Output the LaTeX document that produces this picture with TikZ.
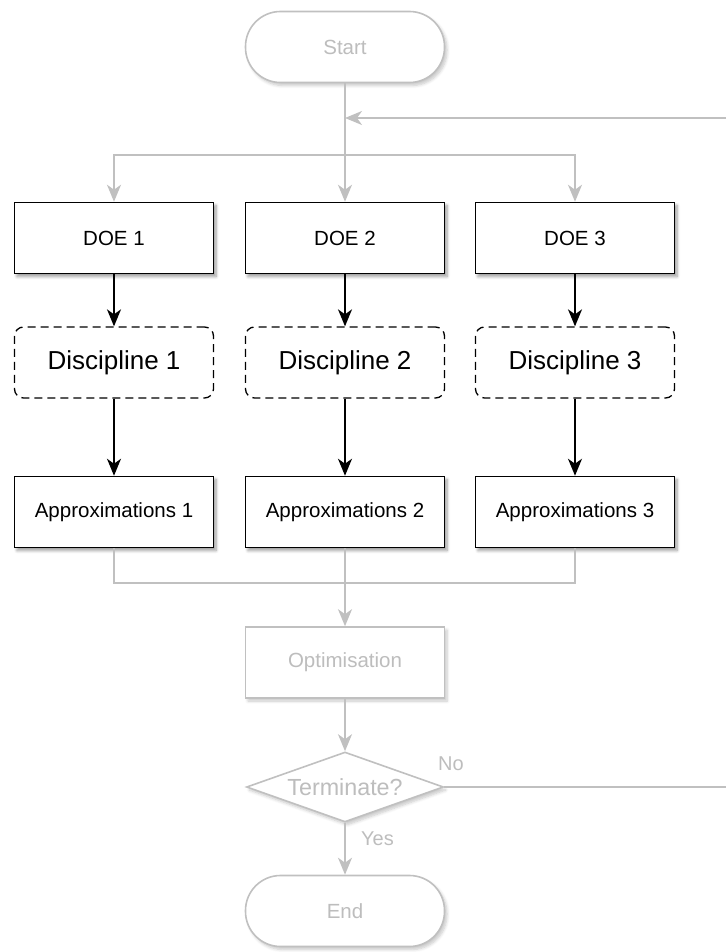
\documentclass[tikz,border=0pt]{standalone}
\usepackage{fontspec}
\setmainfont{Liberation Sans}
\usetikzlibrary{arrows.meta,shapes.geometric,shadows.blur}
\definecolor{pale}{HTML}{C0C0C0}
\definecolor{paletext}{HTML}{BDBDBD}
\tikzset{
  base/.style={minimum width=199pt, minimum height=71pt, inner sep=0pt, align=center,
    font=\fontsize{20.5}{24}\selectfont},
  shade/.style={blur shadow={shadow xshift=2.5pt, shadow yshift=-3pt,
    shadow blur radius=3pt, shadow blur steps=6, shadow opacity=#1}},
  activebox/.style={base, rectangle, draw=black, line width=1.5pt, fill=white, shade=40},
  discbox/.style={base, rectangle, draw=black, line width=1.3pt, rounded corners=9pt,
    dash pattern=on 8pt off 5pt, fill=white, font=\fontsize{26}{30}\selectfont},
  palebox/.style={base, rectangle, draw=pale, line width=1.6pt, fill=white,
    text=paletext, shade=22},
  terminal/.style={palebox, rounded corners=35pt},
  decision/.style={base, diamond, draw=pale, line width=1.6pt, fill=white, text=paletext,
    minimum width=197pt, minimum height=70pt, aspect=2.8, shade=22,
    font=\fontsize{23.3}{27}\selectfont},
  blackarrow/.style={draw=black, line width=1.5pt,
    -{Stealth[length=17pt, width=14pt, inset=5pt]}},
  palearrow/.style={draw=pale, line width=1.8pt,
    -{Stealth[length=17pt, width=14pt, inset=5pt]}},
  paleline/.style={draw=pale, line width=1.8pt},
  lbl/.style={text=paletext, font=\fontsize{20}{24}\selectfont, inner sep=0pt}
}
\begin{document}
\begin{tikzpicture}[x=1pt, y=-1pt]
  \useasboundingbox (0,0) rectangle (726,952);

  % start / end terminals
  \node[terminal] (start) at (345,47) {Start};
  \node[terminal] (end) at (345,911) {End};

  % three parallel branches
  \node[activebox] (doe1) at (114,238) {DOE 1};
  \node[activebox] (doe2) at (345,238) {DOE 2};
  \node[activebox] (doe3) at (575,238) {DOE 3};

  \node[discbox] (disc1) at (114,362.5) {Discipline 1};
  \node[discbox] (disc2) at (345,362.5) {Discipline 2};
  \node[discbox] (disc3) at (575,362.5) {Discipline 3};

  \node[activebox] (app1) at (114,512) {Approximations 1};
  \node[activebox] (app2) at (345,512) {Approximations 2};
  \node[activebox] (app3) at (575,512) {Approximations 3};

  % optimiser and loop test
  \node[palebox] (opt) at (345,662.5) {Optimisation};
  \node[decision] (term) at (345,787) {Terminate?};

  % junction points
  \coordinate (split) at (345,155);
  \coordinate (merge) at (345,583);
  \coordinate (loopin) at (726,118);
  \coordinate (loopout) at (726,787);

  % fan-out from start
  \draw[palearrow] (start) -- (doe2);
  \draw[palearrow] (split) -| (doe1.north);
  \draw[palearrow] (split) -| (doe3.north);
  \draw[palearrow] (loopin) -- (loopin -| start.south);

  % inside each branch
  \foreach \i in {1,2,3} {
    \draw[blackarrow] (doe\i) -- (disc\i);
    \draw[blackarrow] (disc\i) -- (app\i);
  }

  % fan-in to optimiser
  \draw[paleline] (app1.south) |- (merge);
  \draw[paleline] (app3.south) |- (merge);
  \draw[palearrow] (app2) -- (opt);

  % loop test
  \draw[palearrow] (opt) -- (term);
  \draw[paleline] (term.east) -- (loopout);
  \draw[palearrow] (term) -- (end);
  \node[lbl, anchor=west] (no) at (438,764) {No};
  \node[lbl, anchor=west] (yes) at (361,839) {Yes};
\end{tikzpicture}
\end{document}
